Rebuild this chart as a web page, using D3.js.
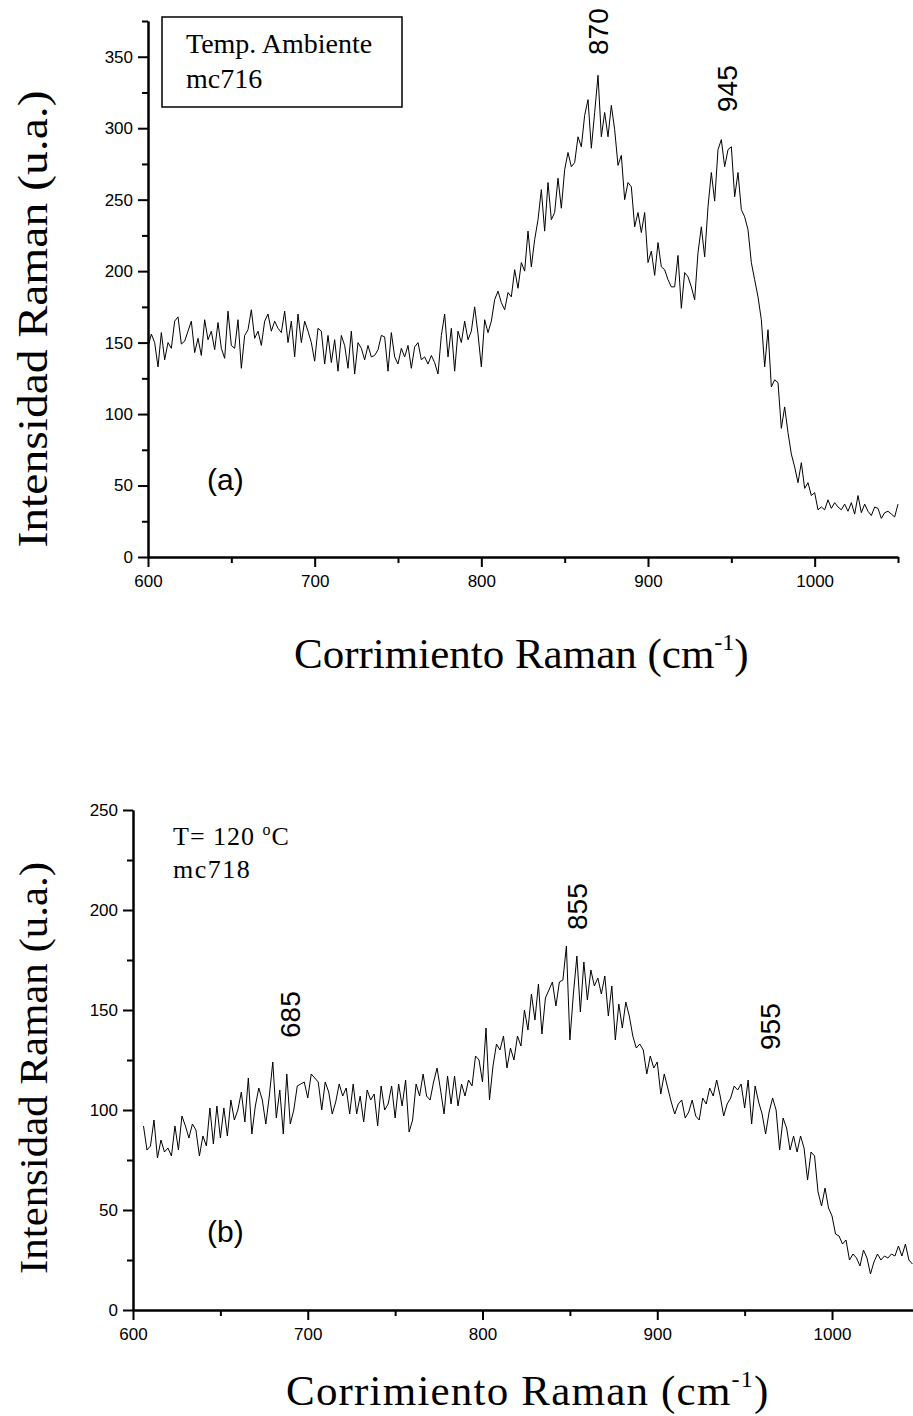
<!DOCTYPE html>
<html>
<head>
<meta charset="utf-8">
<script src="https://cdn.jsdelivr.net/npm/d3@7"></script>
<style>
  body { margin: 0; background: #fff; }
  .tick text { font-family: "Liberation Sans", Arial, sans-serif; font-size: 17px; fill: #000; }
  .domain, .tick line { stroke: #000; stroke-width: 2px; }
</style>
</head>
<body>
<svg id="chart" width="913" height="1416"></svg>
<script>
// ---- panel (a): Temp. Ambiente, mc716 ----
// Raman shift sampled every 2 cm-1 starting at 600
const shiftStartA = 600, shiftStepA = 2;
const intensityA = [
  147,156,150,133,157,138,150,146,165,168,149,151,158,165,143,153,141,166,152,158,
  145,164,146,139,172,148,146,166,132,155,159,173,153,158,148,165,170,158,165,160,
  157,172,150,165,140,170,150,165,158,150,137,160,158,135,155,136,152,130,155,148,
  132,158,128,150,146,138,148,140,141,145,155,154,130,157,140,135,146,140,148,132,
  147,150,138,140,135,141,136,128,155,170,140,160,130,158,150,165,152,158,175,156,
  133,166,157,165,180,186,178,173,185,182,201,188,206,200,228,203,222,236,257,228,
  262,236,241,265,244,271,283,273,276,294,287,309,320,286,311,337,294,311,294,316,
  299,274,281,250,262,259,231,241,227,241,206,214,197,220,203,201,194,189,189,211,
  174,199,196,189,180,213,231,210,245,269,249,285,292,273,285,287,252,269,243,238,
  229,206,194,182,166,133,159,119,124,122,90,105,87,72,63,52,66,48,52,43,
  45,33,35,33,40,34,38,35,33,37,32,38,30,43,31,37,32,29,35,34,
  27,31,32,30,28,37
];

// ---- panel (b): T = 120 oC, mc718 ----
const shiftStartB = 606, shiftStepB = 2;
const intensityB = [
  92,80,82,95,76,85,79,81,77,92,80,97,92,86,93,90,77,87,82,101,
  83,102,86,101,87,105,95,100,109,94,116,88,102,111,105,93,107,124,96,110,
  88,118,93,100,112,113,114,106,118,116,114,100,114,109,98,104,113,107,111,98,
  113,98,107,94,110,105,108,92,112,100,103,112,96,113,102,115,89,95,113,107,
  118,107,105,114,121,110,98,117,103,117,102,113,107,115,112,127,125,114,141,105,
  122,133,130,137,121,131,125,137,132,150,140,158,145,163,138,156,160,164,152,164,
  165,182,135,158,177,149,174,155,170,162,166,158,167,147,162,135,153,141,154,147,
  137,131,133,130,118,127,121,124,108,118,111,104,98,103,105,96,99,105,97,95,
  106,103,111,107,115,107,97,103,106,112,110,113,101,115,93,112,104,98,88,99,
  106,100,80,96,91,80,87,79,87,81,65,79,77,59,52,61,51,47,38,37,
  33,35,25,28,26,22,30,26,18,24,28,25,27,26,28,27,32,27,33,25,
  23
];

// ticks
const xMajor = [600, 700, 800, 900, 1000];
const xMinor = [650, 750, 850, 950, 1050];
const yMajorA = [0, 50, 100, 150, 200, 250, 300, 350];
const yMinorA = [25, 75, 125, 175, 225, 275, 325, 375];
const yMajorB = [0, 50, 100, 150, 200, 250];
const yMinorB = [25, 75, 125, 175, 225];

// peak labels
const peaksA = [{ label: "870", x: 608, y: 55 }, { label: "945", x: 737, y: 112 }];
const peaksB = [{ label: "685", x: 300, y: 1038 }, { label: "855", x: 587, y: 930 }, { label: "955", x: 780, y: 1050 }];

const svg = d3.select("#chart");
const serif = "'Liberation Serif', 'Times New Roman', serif";
const sans = "'Liberation Sans', Arial, sans-serif";

function drawPanel(p) {
  const x = d3.scaleLinear().domain([600, 1050]).range(p.xRange);
  const y = d3.scaleLinear().domain(p.yDomain).range(p.yRange);
  const g = svg.append("g");

  // minor ticks
  g.append("g")
    .attr("transform", "translate(0," + p.yRange[0] + ")")
    .call(d3.axisBottom(x).tickValues(xMinor).tickSize(6).tickFormat("").tickSizeOuter(0));
  g.append("g")
    .attr("transform", "translate(" + p.xRange[0] + ",0)")
    .call(d3.axisLeft(y).tickValues(p.yMinor).tickSize(6).tickFormat("").tickSizeOuter(0));

  // major ticks
  g.append("g")
    .attr("transform", "translate(0," + p.yRange[0] + ")")
    .call(d3.axisBottom(x).tickValues(xMajor).tickSize(10).tickPadding(8)
      .tickFormat(d3.format("d")).tickSizeOuter(0));
  g.append("g")
    .attr("transform", "translate(" + p.xRange[0] + ",0)")
    .call(d3.axisLeft(y).tickValues(p.yMajor).tickSize(10).tickPadding(5)
      .tickFormat(d3.format("d")).tickSizeOuter(0));

  // spectrum
  const line = d3.line()
    .x((d, i) => x(p.start + i * p.step))
    .y(d => y(d));
  g.append("path")
    .datum(p.values)
    .attr("fill", "none")
    .attr("stroke", "#000")
    .attr("stroke-width", 1)
    .attr("d", line);

  // peak labels (rotated)
  g.selectAll(".peak")
    .data(p.peaks)
    .enter()
    .append("text")
    .attr("transform", d => "translate(" + d.x + "," + d.y + ") rotate(-90)")
    .style("font-family", sans)
    .style("font-size", "28px")
    .text(d => d.label);

  // panel letter
  g.append("text")
    .attr("x", 207).attr("y", p.letterY)
    .style("font-family", sans)
    .style("font-size", "30px")
    .text(p.letter);
}

drawPanel({
  xRange: [148, 898], yDomain: [0, 375], yRange: [557, 21],
  yMajor: yMajorA, yMinor: yMinorA,
  start: shiftStartA, step: shiftStepA, values: intensityA,
  peaks: peaksA, letter: "(a)", letterY: 490
});

drawPanel({
  xRange: [133, 919.4], yDomain: [0, 250], yRange: [1310, 810],
  yMajor: yMajorB, yMinor: yMinorB,
  start: shiftStartB, step: shiftStepB, values: intensityB,
  peaks: peaksB, letter: "(b)", letterY: 1242
});

// legend box panel (a)
svg.append("rect")
  .attr("x", 162).attr("y", 17).attr("width", 240).attr("height", 90)
  .attr("fill", "none").attr("stroke", "#000").attr("stroke-width", 1.5);
svg.append("text").attr("x", 186).attr("y", 53)
  .style("font-family", serif).style("font-size", "28px").text("Temp. Ambiente");
svg.append("text").attr("x", 186).attr("y", 88)
  .style("font-family", serif).style("font-size", "28px").text("mc716");

// annotation panel (b)
const tb = svg.append("text").attr("x", 173).attr("y", 845)
  .style("font-family", serif).style("font-size", "26px").style("letter-spacing", "1px");
tb.append("tspan").text("T= 120 ");
tb.append("tspan").attr("dy", -10).style("font-size", "16px").text("o");
tb.append("tspan").attr("dy", 10).text("C");
svg.append("text").attr("x", 173).attr("y", 878)
  .style("font-family", serif).style("font-size", "26px").style("letter-spacing", "1.5px").text("mc718");

// axis titles
function xTitle(xPos, yPos, spacing) {
  const t = svg.append("text").attr("x", xPos).attr("y", yPos)
    .style("font-family", serif).style("font-size", "43px").style("letter-spacing", spacing);
  t.append("tspan").text("Corrimiento Raman (cm");
  t.append("tspan").attr("dy", -18).style("font-size", "24px").text("-1");
  t.append("tspan").attr("dy", 18).text(")");
}
xTitle(294, 668, "0px");
xTitle(286, 1405, "1.2px");

function yTitle(cy, size, len) {
  svg.append("text")
    .attr("transform", "translate(47," + cy + ") rotate(-90)")
    .attr("text-anchor", "middle")
    .attr("textLength", len)
    .attr("lengthAdjust", "spacingAndGlyphs")
    .style("font-family", serif)
    .style("font-size", size + "px")
    .text("Intensidad Raman (u.a.)");
}
yTitle(319, 42, 457);
yTitle(1068, 40, 412);
</script>
</body>
</html>
